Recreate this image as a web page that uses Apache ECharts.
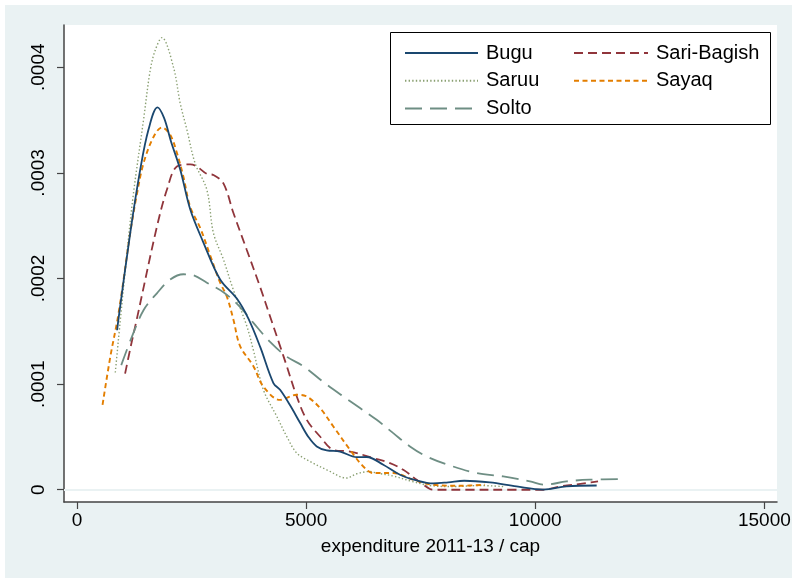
<!DOCTYPE html>
<html>
<head>
<meta charset="utf-8">
<script src="https://cdn.jsdelivr.net/npm/echarts@6/dist/echarts.min.js"></script>
<style>
  html, body { margin: 0; padding: 0; background: #ffffff; }
  #chart { width: 794px; height: 578px; }
</style>
</head>
<body>
<div id="chart"></div>
<script>
// Kernel density estimates of expenditure per capita, by tribe group
const seriesNames = ['Bugu', 'Sari-Bagish', 'Saruu', 'Sayaq', 'Solto'];

const bugu = [
  [876, 0.000151], [907, 0.000162], [1162, 0.000243], [1380, 0.000303], [1561, 0.000341],
  [1757, 0.000362], [1900, 0.000352], [2050, 0.000330], [2254, 0.000303], [2474, 0.000265],
  [2750, 0.000235], [3124, 0.000199], [3488, 0.000181], [3741, 0.000162], [4000, 0.000135],
  [4286, 0.000101], [4432, 0.0000946], [4650, 0.000080], [4868, 0.0000634], [5050, 0.000050],
  [5232, 0.000041], [5450, 0.0000372], [5740, 0.0000362], [6104, 0.0000309], [6322, 0.000031],
  [6684, 0.0000237], [7048, 0.0000142], [7412, 0.0000088], [7774, 0.0000060], [8100, 0.0000070],
  [8450, 0.0000085], [9010, 0.0000069], [9592, 0.0000031], [10172, 0.0000002], [10682, 0.0000031],
  [11340, 0.0000040]
];

const sariBagish = [
  [1050, 0.000110], [1180, 0.000137], [1308, 0.000162], [1744, 0.000249], [1962, 0.000284],
  [2180, 0.000306], [2470, 0.000308], [2616, 0.000306], [2834, 0.000299], [2978, 0.000298],
  [3196, 0.000290], [3414, 0.000262], [3706, 0.000227], [3996, 0.000192], [4214, 0.000164],
  [4432, 0.000136], [4578, 0.000117], [4796, 0.0000883], [5014, 0.0000662], [5304, 0.0000504],
  [5594, 0.0000378], [5958, 0.0000362], [6466, 0.000030], [6830, 0.0000252], [7120, 0.0000189],
  [7412, 0.0000095], [7702, 0.0000007], [7800, 0.0], [8500, 0.0], [9500, 0.0], [10172, 0.0],
  [10536, 0.0000031], [11118, 0.0000063], [11370, 0.0000079]
];

const saruu = [
  [836, 0.000111], [1090, 0.000224], [1234, 0.000281], [1452, 0.000350], [1598, 0.000397],
  [1707, 0.000416], [1853, 0.000428], [2106, 0.000400], [2252, 0.000366], [2398, 0.000341],
  [2579, 0.000309], [2834, 0.000284], [2978, 0.000243], [3196, 0.000218], [3414, 0.000189],
  [3706, 0.000155], [3850, 0.000132], [4068, 0.0000946], [4360, 0.0000694], [4578, 0.0000504],
  [4796, 0.0000347], [5086, 0.0000268], [5450, 0.0000189], [5886, 0.0000111], [6104, 0.0000151],
  [6394, 0.0000173], [6540, 0.0000158], [6900, 0.000013], [7300, 0.000008], [7700, 0.000004],
  [8200, 0.000003], [8800, 0.000004], [9300, 0.000003]
];

const sayaq = [
  [558, 0.0000804], [728, 0.000126], [907, 0.000167], [1162, 0.000243], [1300, 0.000278],
  [1452, 0.000309], [1670, 0.000334], [1853, 0.000343], [2034, 0.000336], [2180, 0.000319],
  [2324, 0.000296], [2470, 0.000268], [2688, 0.000248], [2906, 0.000222], [3124, 0.000196],
  [3270, 0.000183], [3414, 0.000161], [3560, 0.000136], [3850, 0.000117], [4068, 0.0000977],
  [4432, 0.0000851], [4796, 0.0000899], [5014, 0.0000883], [5304, 0.0000773], [5594, 0.0000599],
  [5958, 0.0000378], [6248, 0.000022], [6466, 0.0000158], [6902, 0.0000158], [7338, 0.0000095],
  [7774, 0.0000047], [8356, 0.0000038], [8901, 0.0000047]
];

const solto = [
  [966, 0.000118], [1200, 0.000145], [1452, 0.000170], [1744, 0.000186], [2034, 0.000199],
  [2324, 0.000204], [2542, 0.000203], [2834, 0.000196], [3196, 0.000187], [3560, 0.000173],
  [3850, 0.000158], [4214, 0.000140], [4578, 0.000126], [4940, 0.000117], [5376, 0.000102],
  [5812, 0.0000883], [6176, 0.0000773], [6540, 0.0000662], [6902, 0.0000536], [7266, 0.000041],
  [7630, 0.0000315], [8138, 0.0000230], [8720, 0.0000158], [9300, 0.0000126], [9882, 0.0000079],
  [10200, 0.0000047], [10682, 0.0000079], [11190, 0.0000095], [11916, 0.0000101]
];

const xTicks = [0, 5000, 10000, 15000];
const yTicks = [0, 0.0001, 0.0002, 0.0003, 0.0004];

const colors = {
  'Bugu': '#1a476f',
  'Sari-Bagish': '#90353b',
  'Saruu': '#8aa072',
  'Sayaq': '#e37e00',
  'Solto': '#6e8e84'
};
const lineStyles = {
  'Bugu': { width: 1.8, type: 'solid' },
  'Sari-Bagish': { width: 1.8, type: [9, 5] },
  'Saruu': { width: 1.4, type: [1.4, 2.2] },
  'Sayaq': { width: 1.9, type: [5, 3.5] },
  'Solto': { width: 1.8, type: [17, 8] }
};
const values = {
  'Bugu': bugu, 'Sari-Bagish': sariBagish, 'Saruu': saruu, 'Sayaq': sayaq, 'Solto': solto
};

const font = '"Liberation Sans", Arial, sans-serif';
const chart = echarts.init(document.getElementById('chart'), null, { renderer: 'canvas' });

const legendText = { fontFamily: font, fontSize: 20, color: '#000', padding: [0, 0, 0, 3] };
// legend shows only the line pattern, no point marker
const legendItem = { color: 'transparent', borderColor: 'transparent', borderWidth: 0, opacity: 0 };

chart.setOption({
  animation: false,
  backgroundColor: '#ffffff',
  graphic: [
    { type: 'rect', z: -10, silent: true, shape: { x: 5, y: 5, width: 787, height: 573 },
      style: { fill: '#eaf2f3' } },
    { type: 'rect', z: -9, silent: true, shape: { x: 64, y: 25, width: 713, height: 477 },
      style: { fill: '#ffffff' } },
    { type: 'rect', z: 5, silent: true, shape: { x: 390.5, y: 32.5, width: 380, height: 92 },
      style: { fill: '#ffffff', stroke: '#000000', lineWidth: 1 } }
  ],
  grid: { left: 64, right: 17, top: 25, bottom: 76, containLabel: false },
  legend: [
    {
      data: ['Bugu', 'Saruu', 'Solto'], orient: 'vertical', left: 399, top: 38,
      itemWidth: 73, itemHeight: 14, itemGap: 7.8, z: 10,
      textStyle: legendText, itemStyle: legendItem
    },
    {
      data: ['Sari-Bagish', 'Sayaq'], orient: 'vertical', left: 568, top: 38,
      itemWidth: 74, itemHeight: 14, itemGap: 7.8, z: 10,
      textStyle: legendText, itemStyle: legendItem
    }
  ],
  xAxis: {
    type: 'value', min: -283, max: 15275,
    name: 'expenditure 2011-13 / cap', nameLocation: 'middle', nameGap: 35,
    nameTextStyle: { fontFamily: font, fontSize: 19, color: '#000', padding: [0, 0, 0, 20] },
    axisLine: { show: true, onZero: false, lineStyle: { color: '#444', width: 1.5 } },
    axisTick: { show: true, length: 7, customValues: xTicks, lineStyle: { color: '#444', width: 1.2 } },
    axisLabel: {
      customValues: xTicks, fontFamily: font, fontSize: 19, color: '#000', margin: 9,
      formatter: v => String(Math.round(v))
    },
    splitLine: { show: false }
  },
  yAxis: {
    type: 'value', min: -0.0000116, max: 0.00044,
    axisLine: { show: true, onZero: false, lineStyle: { color: '#444', width: 1.5 } },
    axisTick: { show: true, length: 7, customValues: yTicks, lineStyle: { color: '#444', width: 1.2 } },
    axisLabel: {
      customValues: yTicks, rotate: 90, fontFamily: font, fontSize: 19, color: '#000', margin: 16,
      formatter: v => (Math.abs(v) < 1e-12 ? '0' : v.toFixed(4).replace(/^0/, ''))
    },
    splitLine: { show: false }
  },
  series: seriesNames.map(name => ({
    name: name,
    type: 'line',
    data: values[name],
    smooth: 0.35,
    showSymbol: false,
    symbol: 'none',
    color: colors[name],
    lineStyle: { color: colors[name], width: lineStyles[name].width, type: lineStyles[name].type },
    z: name === 'Bugu' ? 4 : 3,
    markLine: name === 'Bugu' ? {
      silent: true, symbol: 'none', label: { show: false }, z: 1,
      lineStyle: { color: '#eaf2f3', width: 2, type: 'solid' },
      data: yTicks.map(t => ({ yAxis: t }))
    } : undefined
  }))
});
</script>
</body>
</html>
